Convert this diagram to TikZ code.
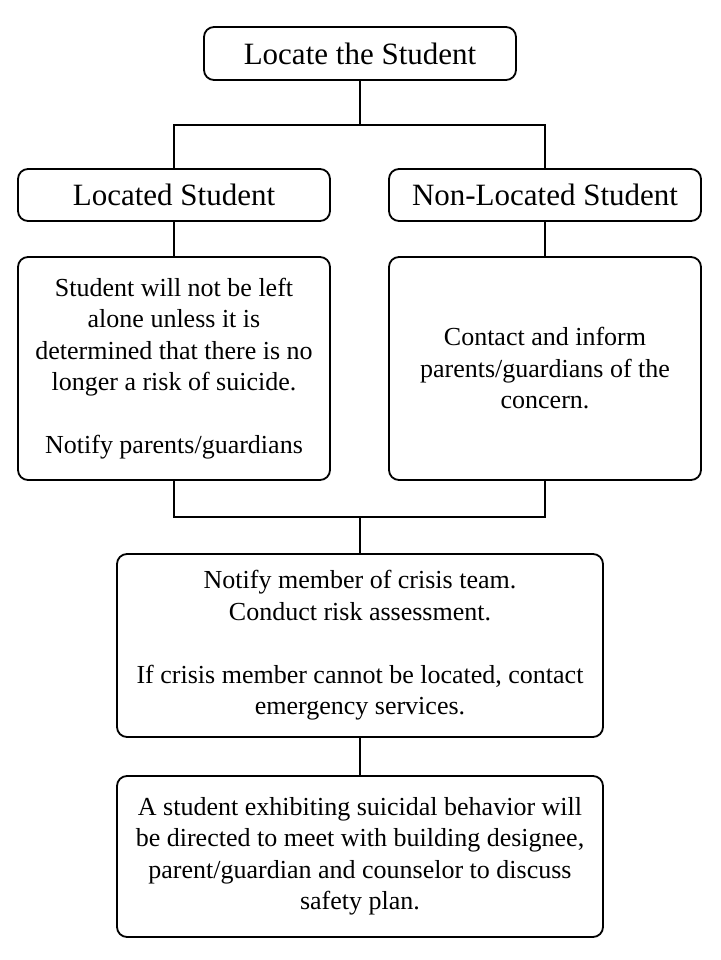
\documentclass[tikz,border=0pt]{standalone}
\usepackage{fontspec}
\setmainfont{Liberation Serif}
\begin{document}
\begin{tikzpicture}[x=1pt,y=-1pt,
  box/.style={draw, line width=1.8pt, rounded corners=10pt, align=center, inner sep=0pt},
  head/.style={box, font=\fontsize{31}{36}\selectfont},
  body/.style={box, font=\fontsize{26}{31.5}\selectfont},
  conn/.style={line width=1.8pt}]
\useasboundingbox (0,0) rectangle (720,960);
\node[head, minimum width=312pt, minimum height=53pt] (top) at (360,53.5) {Locate the Student};
\node[head, minimum width=312pt, minimum height=52pt] (loc) at (174,195) {Located Student};
\node[head, minimum width=312pt, minimum height=52pt] (nonloc) at (545,195) {Non-Located Student};
\node[body, minimum width=312pt, minimum height=223pt] (lbig) at (174,368.5) {Student will not be left\\alone unless it is\\determined that there is no\\longer a risk of suicide.\\[31.5pt]Notify parents/guardians};
\node[body, minimum width=312pt, minimum height=223pt] (rbig) at (545,368.5) {Contact and inform\\parents/guardians of the\\concern.};
\node[body, minimum width=486pt, minimum height=183pt] (crisis) at (360,645.5) {Notify member of crisis team.\\Conduct risk assessment.\\[31.5pt]If crisis member cannot be located, contact\\emergency services.};
\node[body, minimum width=486pt, minimum height=161pt] (final) at (360,856.5) {A student exhibiting suicidal behavior will\\be directed to meet with building designee,\\parent/guardian and counselor to discuss\\safety plan.};
\coordinate (j1) at (360,125);
\coordinate (j2) at (360,517);
\draw[conn] (top.south) -- (j1);
\draw[conn] (loc.north) |- (j1) -| (nonloc.north);
\draw[conn] (loc.south) -- (lbig.north);
\draw[conn] (nonloc.south) -- (rbig.north);
\draw[conn] (lbig.south) |- (j2) -| (rbig.south);
\draw[conn] (j2) -- (crisis.north);
\draw[conn] (crisis.south) -- (final.north);
\end{tikzpicture}
\end{document}
